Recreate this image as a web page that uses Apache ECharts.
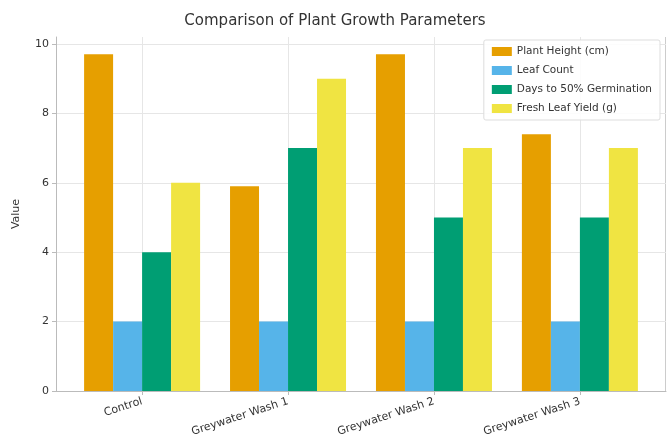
<!DOCTYPE html>
<html>
<head>
<meta charset="utf-8">
<script src="https://cdn.jsdelivr.net/npm/echarts@6/dist/echarts.min.js"></script>
<style>
  html, body { margin: 0; padding: 0; background: #ffffff; }
  #chart { width: 670px; height: 447px; }
</style>
</head>
<body>
<div id="chart"></div>
<script>
// Plant growth measurements per treatment
const categories = ['Control', 'Greywater Wash 1', 'Greywater Wash 2', 'Greywater Wash 3'];
const seriesNames = ['Plant Height (cm)', 'Leaf Count', 'Days to 50% Germination', 'Fresh Leaf Yield (g)'];
const plantHeight = [9.7, 5.9, 9.7, 7.4];
const leafCount = [2, 2, 2, 2];
const daysToGermination = [4, 7, 5, 5];
const freshLeafYield = [6, 9, 7, 7];
const yTicks = [0, 2, 4, 6, 8, 10];

const colors = ['#E69F00', '#56B4E9', '#009E73', '#F0E442'];
const values = [plantHeight, leafCount, daysToGermination, freshLeafYield];
const font = 'DejaVu Sans';

const chart = echarts.init(document.getElementById('chart'), null, { renderer: 'canvas' });

const series = values.map((vals, s) => ({
  name: seriesNames[s],
  type: 'bar',
  data: vals.map((v, i) => [i, v]),
  barWidth: 29,
  barGap: '0%',
  itemStyle: { color: colors[s] },
  emphasis: { disabled: true }
}));

chart.setOption({
  animation: false,
  backgroundColor: '#ffffff',
  textStyle: { fontFamily: font },
  title: {
    text: 'Comparison of Plant Growth Parameters',
    left: 'center',
    top: 9,
    textStyle: { fontFamily: font, fontSize: 15, fontWeight: 'normal', color: '#333333' }
  },
  legend: {
    data: seriesNames,
    orient: 'vertical',
    right: 10,
    top: 40,
    itemWidth: 20,
    itemHeight: 9,
    itemGap: 8,
    padding: [6, 8, 6, 8],
    borderColor: '#dddddd',
    borderWidth: 1,
    borderRadius: 2,
    backgroundColor: 'rgba(255,255,255,0.85)',
    textStyle: { fontFamily: font, fontSize: 10.5, color: '#333333' },
    icon: 'rect'
  },
  grid: { left: 56, right: 4, top: 37, bottom: 56, containLabel: false },
  xAxis: {
    type: 'value',
    min: -0.59,
    max: 3.59,
    axisLine: { show: true, onZero: false, lineStyle: { color: '#bbbbbb' } },
    axisTick: { show: true, customValues: [0, 1, 2, 3], length: 4, lineStyle: { color: '#bbbbbb' } },
    splitLine: { show: false },
    axisLabel: {
      customValues: [0, 1, 2, 3],
      formatter: (v) => categories[Math.round(v)],
      rotate: 18,
      margin: 10,
      fontFamily: font,
      fontSize: 11,
      color: '#333333'
    }
  },
  yAxis: {
    type: 'value',
    min: 0,
    max: 10.2,
    interval: 2,
    name: 'Value',
    nameLocation: 'middle',
    nameGap: 34,
    nameTextStyle: { fontFamily: font, fontSize: 11, color: '#333333' },
    axisLine: { show: true, onZero: false, lineStyle: { color: '#bbbbbb' } },
    axisTick: { show: true, customValues: yTicks, length: 4, lineStyle: { color: '#bbbbbb' } },
    splitLine: { show: true, lineStyle: { color: '#e6e6e6', width: 1 } },
    axisLabel: {
      customValues: yTicks,
      fontFamily: font,
      fontSize: 11,
      color: '#333333',
      margin: 7
    }
  },
  graphic: [],
  series: series
});

// Vertical grid lines at each category centre plus the right frame edge
function drawVerticalGrid() {
  const toPx = (p) => chart.convertToPixel({ xAxisIndex: 0, yAxisIndex: 0 }, p);
  const top = toPx([0, 10.2])[1];
  const bottom = toPx([0, 0])[1];
  const right = toPx([3.59, 0])[0];
  const lines = categories.map((c, i) => {
    const x = Math.round(toPx([i, 0])[0]) + 0.5;
    return { type: 'line', z: -1, silent: true, shape: { x1: x, y1: top, x2: x, y2: bottom }, style: { stroke: '#e6e6e6', lineWidth: 1 } };
  });
  lines.push({ type: 'line', z: -1, silent: true, shape: { x1: right - 0.5, y1: top, x2: right - 0.5, y2: bottom }, style: { stroke: '#cccccc', lineWidth: 1 } });
  chart.setOption({ graphic: lines });
}
drawVerticalGrid();
</script>
</body>
</html>
